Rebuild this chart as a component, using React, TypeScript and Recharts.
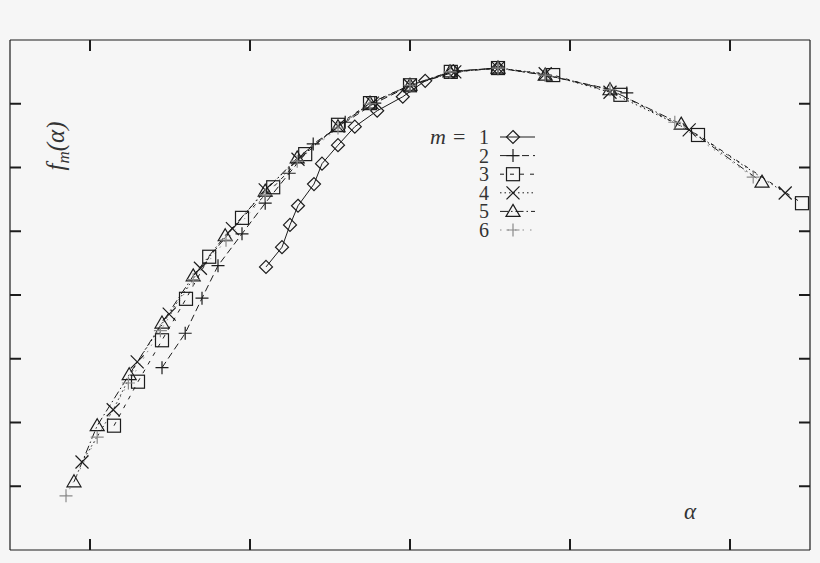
import { Label, Legend, Line, LineChart, XAxis, YAxis } from 'recharts'

type Pt = { x: number; y: number }
type Kind = 'diamond' | 'plus' | 'square' | 'cross' | 'triangle'

// f_m(alpha) spectra, one array per m
const m1: Pt[] = [
  { x: 3.2, y: 4.44 }, { x: 3.4, y: 4.75 }, { x: 3.5, y: 5.1 }, { x: 3.6, y: 5.4 },
  { x: 3.8, y: 5.74 }, { x: 3.9, y: 6.06 }, { x: 4.1, y: 6.35 }, { x: 4.31, y: 6.64 },
  { x: 4.59, y: 6.89 }, { x: 4.91, y: 7.11 }, { x: 5.19, y: 7.36 }, { x: 5.54, y: 7.51 },
  { x: 6.1, y: 7.56 },
]
const m2: Pt[] = [
  { x: 1.9, y: 2.86 }, { x: 2.19, y: 3.4 }, { x: 2.4, y: 3.95 }, { x: 2.6, y: 4.46 },
  { x: 2.9, y: 4.96 }, { x: 3.19, y: 5.44 }, { x: 3.49, y: 5.91 }, { x: 3.79, y: 6.37 },
  { x: 4.19, y: 6.71 }, { x: 4.56, y: 7.01 }, { x: 5.0, y: 7.28 }, { x: 5.56, y: 7.5 },
  { x: 6.1, y: 7.56 }, { x: 6.69, y: 7.45 }, { x: 7.71, y: 7.17 },
]
const m3: Pt[] = [
  { x: 1.3, y: 1.95 }, { x: 1.6, y: 2.64 }, { x: 1.9, y: 3.29 }, { x: 2.2, y: 3.94 },
  { x: 2.49, y: 4.6 }, { x: 2.9, y: 5.21 }, { x: 3.29, y: 5.69 }, { x: 3.69, y: 6.21 },
  { x: 4.1, y: 6.67 }, { x: 4.5, y: 7.01 }, { x: 5.0, y: 7.29 }, { x: 5.51, y: 7.5 },
  { x: 6.1, y: 7.56 }, { x: 6.79, y: 7.45 }, { x: 7.63, y: 7.14 }, { x: 8.6, y: 6.51 },
  { x: 9.9, y: 5.44 },
]
const m4: Pt[] = [
  { x: 0.9, y: 1.38 }, { x: 1.29, y: 2.2 }, { x: 1.59, y: 2.95 }, { x: 1.99, y: 3.7 },
  { x: 2.38, y: 4.42 }, { x: 2.78, y: 5.04 }, { x: 3.19, y: 5.65 }, { x: 3.6, y: 6.13 },
  { x: 4.1, y: 6.65 }, { x: 4.53, y: 7.01 }, { x: 5.0, y: 7.29 }, { x: 5.56, y: 7.5 },
  { x: 6.1, y: 7.56 }, { x: 6.69, y: 7.47 }, { x: 7.5, y: 7.18 }, { x: 8.49, y: 6.59 },
  { x: 9.69, y: 5.6 },
]
const m5: Pt[] = [
  { x: 0.8, y: 1.07 }, { x: 1.09, y: 1.95 }, { x: 1.49, y: 2.75 }, { x: 1.9, y: 3.56 },
  { x: 2.29, y: 4.3 }, { x: 2.69, y: 4.93 }, { x: 3.19, y: 5.63 }, { x: 3.59, y: 6.15 },
  { x: 4.1, y: 6.64 }, { x: 4.5, y: 7.01 }, { x: 5.0, y: 7.29 }, { x: 5.5, y: 7.5 },
  { x: 6.1, y: 7.56 }, { x: 6.69, y: 7.45 }, { x: 7.5, y: 7.22 }, { x: 8.39, y: 6.68 },
  { x: 9.4, y: 5.77 },
]
const m6: Pt[] = [
  { x: 0.7, y: 0.85 }, { x: 1.09, y: 1.77 }, { x: 1.48, y: 2.62 }, { x: 1.88, y: 3.44 },
  { x: 2.29, y: 4.24 }, { x: 2.7, y: 4.86 }, { x: 3.19, y: 5.57 }, { x: 3.59, y: 6.1 },
  { x: 4.1, y: 6.62 }, { x: 4.5, y: 7.0 }, { x: 5.0, y: 7.29 }, { x: 5.5, y: 7.5 },
  { x: 6.1, y: 7.56 }, { x: 6.69, y: 7.45 }, { x: 7.5, y: 7.22 }, { x: 8.31, y: 6.71 },
  { x: 9.29, y: 5.85 },
]

const xTicks = [1, 3, 5, 7, 9]
const yTicks = [1, 2, 3, 4, 5, 6, 7]

const INK = '#1c1c1c'
const GREY = '#8a8a8a'
const SERIF = '"Liberation Serif", "DejaVu Serif", serif'

// m = 6 is bound to the top/right axes (same domains) so those axes get their ticks
const SERIES: { name: string; data: Pt[]; kind: Kind; dash?: string; color: string; xId: string; yId: string }[] = [
  { name: '1', data: m1, kind: 'diamond', color: INK, xId: 'b', yId: 'l' },
  { name: '2', data: m2, kind: 'plus', dash: '7 4', color: INK, xId: 'b', yId: 'l' },
  { name: '3', data: m3, kind: 'square', dash: '4 6', color: INK, xId: 'b', yId: 'l' },
  { name: '4', data: m4, kind: 'cross', dash: '1.5 3', color: INK, xId: 'b', yId: 'l' },
  { name: '5', data: m5, kind: 'triangle', dash: '8 3 1.5 3', color: INK, xId: 'b', yId: 'l' },
  { name: '6', data: m6, kind: 'plus', dash: '1.5 6', color: GREY, xId: 't', yId: 'r' },
]

const Marker = ({ kind, cx, cy, color }: { kind: Kind; cx: number; cy: number; color: string }) => {
  const s = { fill: 'none', stroke: color, strokeWidth: 1.2 }
  switch (kind) {
    case 'diamond':
      return <path d={`M${cx},${cy - 6.5}L${cx + 6.5},${cy}L${cx},${cy + 6.5}L${cx - 6.5},${cy}Z`} {...s} />
    case 'plus':
      return <path d={`M${cx - 6.5},${cy}H${cx + 6.5}M${cx},${cy - 6.5}V${cy + 6.5}`} {...s} />
    case 'square':
      return <rect x={cx - 6.5} y={cy - 6.5} width={13} height={13} {...s} />
    case 'cross':
      return <path d={`M${cx - 6.5},${cy - 6.5}L${cx + 6.5},${cy + 6.5}M${cx - 6.5},${cy + 6.5}L${cx + 6.5},${cy - 6.5}`} {...s} />
    case 'triangle':
      return <path d={`M${cx},${cy - 7}L${cx + 7},${cy + 5}L${cx - 7},${cy + 5}Z`} {...s} />
  }
}

const makeDot = (kind: Kind, color: string) => (props: any) => {
  const { cx, cy, index } = props
  if (cx == null || cy == null) return <g key={index} />
  return (
    <g key={index}>
      <Marker kind={kind} cx={cx} cy={cy} color={color} />
    </g>
  )
}

// tick marks only, no tick labels
const NoLabel = () => <g />

const ROW = 18.6
const rowY = (i: number) => 12 + i * ROW

const LegendBox = () => (
  <svg width={130} height={125} style={{ display: 'block' }}>
    <text fontFamily={SERIF} fontSize={20} fill="#333">
      <tspan x={10} y={rowY(0) + 7} fontStyle="italic" fontSize={22}>m</tspan>
      <tspan x={33} y={rowY(0) + 7} fontSize={22}>=</tspan>
      {SERIES.map((s, i) => (
        <tspan key={s.name} x={69} y={rowY(i) + 7} textAnchor="end">
          {s.name}
        </tspan>
      ))}
    </text>
    {SERIES.map((s, i) => (
      <g key={s.name}>
        <line x1={80} x2={115} y1={rowY(i)} y2={rowY(i)} stroke={s.color} strokeWidth={1} strokeDasharray={s.dash} />
        <Marker kind={s.kind} cx={93} cy={rowY(i)} color={s.color} />
      </g>
    ))}
  </svg>
)

export default function App() {
  const axisProps = {
    mirror: true,
    tick: <NoLabel />,
    tickSize: 11,
    axisLine: { stroke: INK, strokeWidth: 1.2 },
    tickLine: { stroke: INK, strokeWidth: 2 },
  }
  return (
    <div style={{ position: 'absolute', left: 0, top: 0, width: 820, height: 563, background: '#f6f6f6' }}>
      <LineChart width={820} height={563} margin={{ top: 40, right: 10, bottom: 13, left: 10 }}>
        <XAxis xAxisId="b" type="number" dataKey="x" domain={[0, 10]} ticks={xTicks} {...axisProps}>
          <Label
            content={() => (
              <text x={690} y={519} textAnchor="middle" fontFamily={SERIF} fontStyle="italic" fontSize={23} fill="#333">
                α
              </text>
            )}
          />
        </XAxis>
        <XAxis
          xAxisId="t"
          orientation="top"
          type="number"
          dataKey="x"
          domain={[0, 10]}
          ticks={xTicks}
          {...axisProps}
        />
        <YAxis yAxisId="l" type="number" domain={[0, 8]} ticks={yTicks} {...axisProps}>
          <Label
            content={() => (
              <text
                transform="translate(64,146) rotate(-90)"
                textAnchor="middle"
                fontFamily={SERIF}
                fontStyle="italic"
                fontSize={25}
                fill="#333"
              >
                f
                <tspan fontSize={17} dy={5}>m</tspan>
                <tspan dy={-5}>(α)</tspan>
              </text>
            )}
          />
        </YAxis>
        <YAxis yAxisId="r" orientation="right" type="number" domain={[0, 8]} ticks={yTicks} {...axisProps} />
        <Legend
          layout="vertical"
          align="center"
          verticalAlign="middle"
          content={() => <LegendBox />}
          wrapperStyle={{ position: 'absolute', left: 420, top: 125, width: 130, height: 125 }}
        />
        {SERIES.map((s) => (
          <Line
            key={s.name}
            xAxisId={s.xId}
            yAxisId={s.yId}
            data={s.data}
            dataKey="y"
            name={s.name}
            stroke={s.color}
            strokeWidth={1}
            strokeDasharray={s.dash}
            dot={makeDot(s.kind, s.color)}
            activeDot={false}
            isAnimationActive={false}
          />
        ))}
      </LineChart>
    </div>
  )
}
